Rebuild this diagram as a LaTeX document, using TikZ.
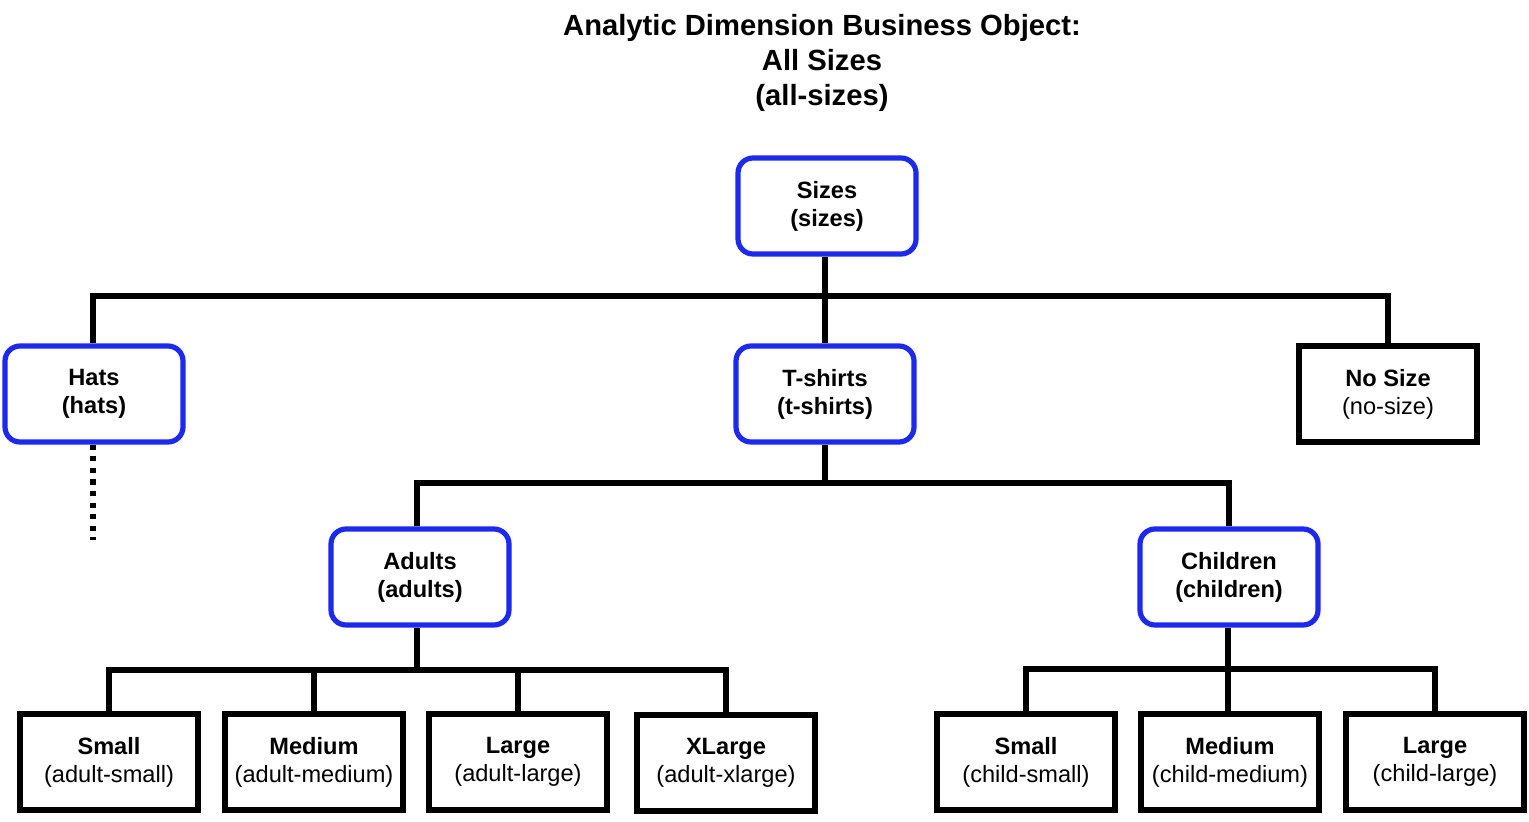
\documentclass[tikz,border=0pt]{standalone}
\usepackage{fontspec}
\setmainfont{Liberation Sans}
\definecolor{boxblue}{RGB}{30,42,235}
\begin{document}
\begin{tikzpicture}[x=0.5pt,y=-0.5pt,
  base/.style={rectangle,minimum width=89pt,minimum height=48pt,inner sep=0pt,
    line width=2.6pt,align=center,font=\fontsize{11.8}{14}\selectfont,fill=white},
  catbox/.style={base,draw=boxblue,rounded corners=7.5pt,font=\fontsize{11.8}{14}\selectfont\bfseries},
  leafbox/.style={base,draw=black},
  conn/.style={line width=2.6pt,draw=black},
  dotline/.style={line width=2.6pt,draw=black,dash pattern=on 2.6pt off 3.2pt}]
\useasboundingbox (0,0) rectangle (1529,822);
% title
\node[align=center,font=\fontsize{14.6}{17.5}\selectfont\bfseries] (title) at (822,63)
  {Analytic Dimension Business Object:\\All Sizes\\(all-sizes)};
% bars
\coordinate (b1) at (0,296);
\coordinate (b2) at (0,483);
\coordinate (b3) at (0,670);
\coordinate (b4) at (0,669);
\coordinate (dotend) at (93,540);
% nodes
\node[catbox] (sizes) at (827,206) {Sizes\\(sizes)};
\node[catbox] (hats) at (94,394) {Hats\\(hats)};
\node[catbox] (tshirts) at (825,394) {T-shirts\\(t-shirts)};
\node[leafbox] (nosize) at (1388,394) {\textbf{No Size}\\(no-size)};
\node[catbox] (adults) at (420,577) {Adults\\(adults)};
\node[catbox] (children) at (1229,577) {Children\\(children)};
\node[leafbox] (asmall) at (109,762) {\textbf{Small}\\(adult-small)};
\node[leafbox] (amedium) at (314,762) {\textbf{Medium}\\(adult-medium)};
\node[leafbox] (alarge) at (518,762) {\textbf{Large}\\(adult-large)};
\node[leafbox] (axlarge) at (726,763) {\textbf{XLarge}\\(adult-xlarge)};
\node[leafbox] (csmall) at (1026,762) {\textbf{Small}\\(child-small)};
\node[leafbox] (cmedium) at (1230,762) {\textbf{Medium}\\(child-medium)};
\node[leafbox] (clarge) at (1435,762) {\textbf{Large}\\(child-large)};
% connectors level 1
\draw[conn] ([xshift=-1pt]sizes.south) -- ([xshift=-1pt]sizes.south |- tshirts.north);
\draw[conn] ([xshift=-0.5pt]hats.north) -- ([xshift=-0.5pt]hats.north |- b1) -- (nosize.north |- b1) -- (nosize.north);
\draw[dotline] ([xshift=-0.5pt]hats.south) -- (dotend);
% level 2
\draw[conn] (tshirts.south) -- (tshirts.south |- b2);
\draw[conn] ([xshift=-1.5pt]adults.north) -- ([xshift=-1.5pt]adults.north |- b2) -- (children.north |- b2) -- (children.north);
% level 3 adults
\draw[conn] ([xshift=-1.5pt]adults.south) -- ([xshift=-1.5pt]adults.south |- b3);
\draw[conn] (asmall.north) -- (asmall.north |- b3) -- (axlarge.north |- b3) -- (axlarge.north);
\draw[conn] (amedium.north) -- (amedium.north |- b3);
\draw[conn] (alarge.north) -- (alarge.north |- b3);
% level 3 children
\draw[conn] ([xshift=-0.5pt]children.south) -- ([xshift=-1pt]cmedium.north);
\draw[conn] (csmall.north) -- (csmall.north |- b4) -- (clarge.north |- b4) -- (clarge.north);
\end{tikzpicture}
\end{document}
